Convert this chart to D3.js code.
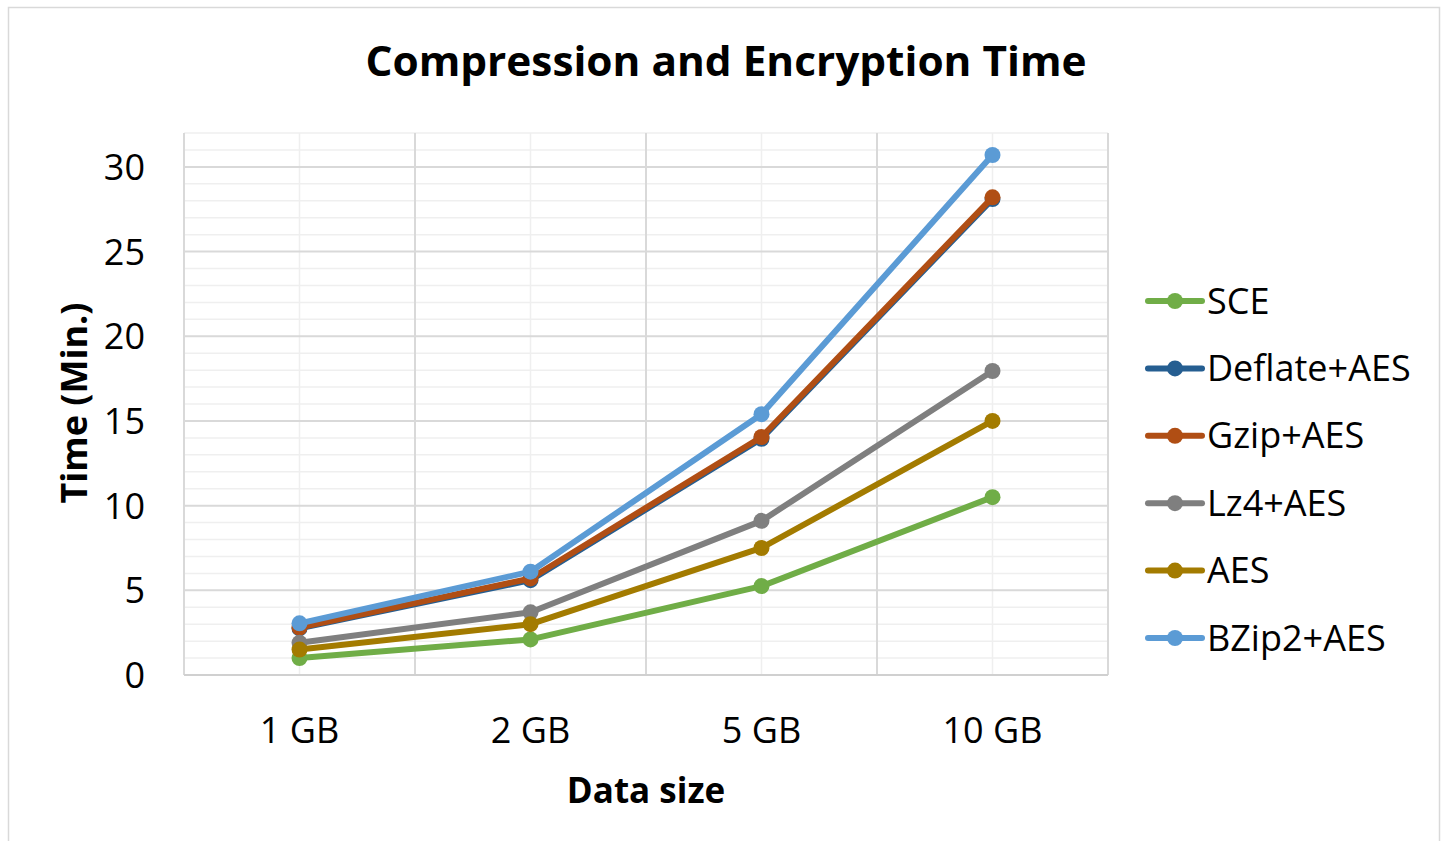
<!DOCTYPE html>
<html><head><meta charset="utf-8">
<script src="https://cdn.jsdelivr.net/npm/d3@7"></script>
<style>body{margin:0;background:#fff}svg{display:block}text{font-family:"Open Sans","Noto Sans",sans-serif;fill:#000}</style>
</head><body><svg id="c" width="1448" height="841"></svg>
<script>
const categories = ["1 GB","2 GB","5 GB","10 GB"];
const seriesNames = ["SCE","Deflate+AES","Gzip+AES","Lz4+AES","AES","BZip2+AES"];
const sce     = [1.0, 2.1, 5.25, 10.5];
const deflate = [2.75, 5.6, 13.95, 28.1];
const gzip    = [2.8, 5.7, 14.05, 28.2];
const lz4     = [1.9, 3.7, 9.1, 17.95];
const aes     = [1.5, 3.0, 7.5, 15.0];
const bzip2   = [3.05, 6.1, 15.4, 30.7];
const colors  = ["#70AD47","#255E91","#B04E14","#7F7F7F","#A37B00","#5B9BD5"];
const yTicks  = [0,5,10,15,20,25,30];
const yMax = 32;
const allSeries = [sce, deflate, gzip, lz4, aes, bzip2];

const svg = d3.select("#c");
svg.append("rect").attr("x",8.5).attr("y",7.5).attr("width",1431).attr("height",840)
  .attr("fill","#fff").attr("stroke","#d9d9d9").attr("stroke-width",1.5);

const L=184,R=1108,T=133,B=675;
const x = d3.scaleBand().domain(categories).range([L,R]);
const y = d3.scaleLinear().domain([0,yMax]).range([B,T]);
const cx = d => x(d)+x.bandwidth()/2;

svg.append("g").selectAll("line").data(d3.range(1,yMax+1).filter(v=>v%5!==0)).join("line")
  .attr("x1",L).attr("x2",R).attr("y1",d=>y(d)).attr("y2",d=>y(d))
  .attr("stroke","#efefef").attr("stroke-width",1.5);
svg.append("g").selectAll("line").data(categories).join("line")
  .attr("x1",d=>cx(d)).attr("x2",d=>cx(d)).attr("y1",T).attr("y2",B)
  .attr("stroke","#efefef").attr("stroke-width",1.5);
svg.append("g").selectAll("line").data(yTicks.filter(v=>v>0)).join("line")
  .attr("x1",L).attr("x2",R).attr("y1",d=>y(d)).attr("y2",d=>y(d))
  .attr("stroke","#d9d9d9").attr("stroke-width",2);
const edges = categories.map(c=>x(c)).concat([R]);
svg.append("g").selectAll("line").data(edges).join("line")
  .attr("x1",d=>d).attr("x2",d=>d).attr("y1",T).attr("y2",B)
  .attr("stroke","#d9d9d9").attr("stroke-width",2);
svg.append("line").attr("x1",L).attr("x2",R).attr("y1",B).attr("y2",B)
  .attr("stroke","#d0d0d0").attr("stroke-width",2);

const yAxis = d3.axisLeft(y).tickValues(yTicks).tickSize(0).tickPadding(0);
const ya = svg.append("g").attr("transform",`translate(145,0)`).call(yAxis);
ya.select(".domain").remove();
ya.selectAll("text").attr("font-size",36).attr("font-family","Open Sans").attr("fill","#000").attr("dy","0.35em");

const xAxis = d3.axisBottom(x).tickSize(0).tickPadding(0);
const xa = svg.append("g").attr("transform",`translate(0,717)`).call(xAxis);
xa.select(".domain").remove();
xa.selectAll("text").attr("font-size",36).attr("font-family","Open Sans").attr("fill","#000");

const line = d3.line().x((d,i)=>cx(categories[i])).y(d=>y(d));
allSeries.forEach((s,k)=>{
  const g = svg.append("g");
  g.append("path").attr("d",line(s)).attr("fill","none").attr("stroke",colors[k])
    .attr("stroke-width",6).attr("stroke-linejoin","round").attr("stroke-linecap","round");
  g.selectAll("circle").data(s).join("circle")
    .attr("cx",(d,i)=>cx(categories[i])).attr("cy",d=>y(d)).attr("r",8).attr("fill",colors[k]);
});

svg.append("text").attr("x",726).attr("y",76).attr("text-anchor","middle")
  .attr("font-size",41).attr("font-weight","bold").attr("textLength",721).attr("lengthAdjust","spacingAndGlyphs")
  .text("Compression and Encryption Time");
svg.append("text").attr("x",646).attr("y",803).attr("text-anchor","middle")
  .attr("font-size",35).attr("font-weight","bold").text("Data size");
svg.append("text").attr("transform","translate(87,403) rotate(-90)").attr("text-anchor","middle")
  .attr("font-size",36).attr("font-weight","bold").text("Time (Min.)");

const lg = svg.append("g");
seriesNames.forEach((n,k)=>{
  const yy = 301 + k*67.4;
  lg.append("line").attr("x1",1148).attr("x2",1202).attr("y1",yy).attr("y2",yy)
    .attr("stroke",colors[k]).attr("stroke-width",6).attr("stroke-linecap","round");
  lg.append("circle").attr("cx",1175).attr("cy",yy).attr("r",8).attr("fill",colors[k]);
  lg.append("text").attr("x",1207).attr("y",yy).attr("dy","0.35em").attr("font-size",36).text(n);
});
</script></body></html>
